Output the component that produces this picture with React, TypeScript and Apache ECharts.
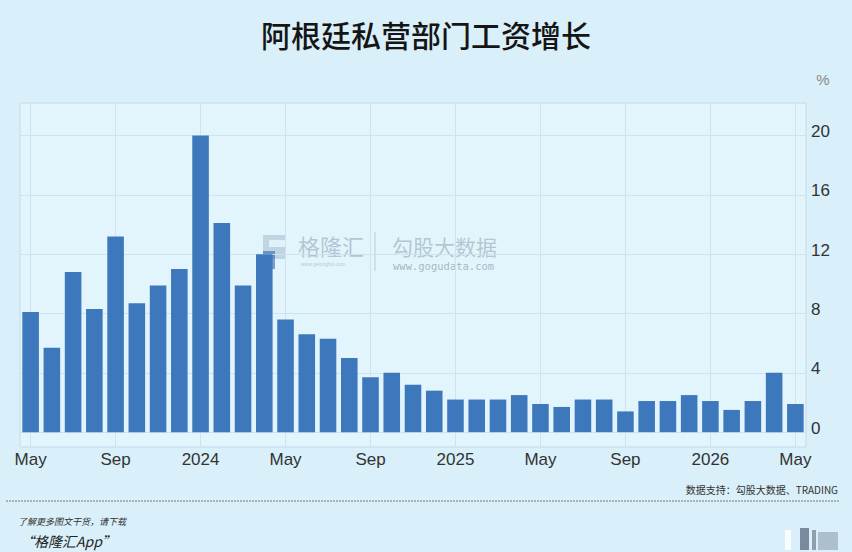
import React, { useEffect, useRef } from "react";
import * as echarts from "echarts";

const categories = [
  "2023-05", "2023-06", "2023-07", "2023-08", "2023-09", "2023-10", "2023-11", "2023-12",
  "2024-01", "2024-02", "2024-03", "2024-04", "2024-05", "2024-06", "2024-07", "2024-08",
  "2024-09", "2024-10", "2024-11", "2024-12", "2025-01", "2025-02", "2025-03", "2025-04",
  "2025-05", "2025-06", "2025-07", "2025-08", "2025-09", "2025-10", "2025-11", "2025-12",
  "2026-01", "2026-02", "2026-03", "2026-04", "2026-05",
];

const wageGrowth = [
  8.1, 5.7, 10.8, 8.3, 13.2, 8.7, 9.9, 11.0,
  20.0, 14.1, 9.9, 12.0, 7.6, 6.6, 6.3, 5.0,
  3.7, 4.0, 3.2, 2.8, 2.2, 2.2, 2.2, 2.5,
  1.9, 1.7, 2.2, 2.2, 1.4, 2.1, 2.1, 2.5,
  2.1, 1.5, 2.1, 4.0, 1.9,
];

const yTicks = [0, 4, 8, 12, 16, 20];
const monthNames = ["Jan", "Feb", "Mar", "Apr", "May", "Jun", "Jul", "Aug", "Sep", "Oct", "Nov", "Dec"];

const title = "阿根廷私营部门工资增长";
const unitLabel = "%";
const sourceText = "数据支持：勾股大数据、TRADING";
const promoLine1 = "了解更多图文干货，请下载";
const promoLine2 = "“格隆汇App”";

export default function App() {
  const ref = useRef<HTMLDivElement>(null);

  useEffect(() => {
    if (!ref.current) return;
    const chart = echarts.init(ref.current, undefined, { renderer: "svg" });
    const cjk = "'Noto Sans CJK SC', 'Noto Sans', sans-serif";
    const latin = "'Liberation Sans', Arial, sans-serif";
    const wm = "rgba(150,168,182,0.6)";

    chart.setOption({
      animation: false,
      backgroundColor: "#d9eff9",
      grid: {
        left: 20,
        right: 46,
        top: 103,
        bottom: 105,
        show: true,
        backgroundColor: "#e2f4fc",
        borderColor: "#c6dbe7",
        borderWidth: 1,
      },
      xAxis: {
        type: "category",
        data: categories,
        boundaryGap: true,
        axisLine: { show: false },
        axisTick: { show: false },
        axisLabel: {
          interval: 3,
          margin: 4,
          fontSize: 17,
          color: "#333",
          fontFamily: latin,
          formatter: (v: string) => {
            const [y, m] = v.split("-");
            const mi = parseInt(m, 10);
            return mi === 1 ? y : monthNames[mi - 1];
          },
        },
        splitLine: {
          show: true,
          interval: 3,
          alignWithLabel: true,
          lineStyle: { color: "#cfe3ee", width: 1 },
        },
      },
      yAxis: {
        type: "value",
        position: "right",
        min: -1,
        max: 22.2,
        axisLine: { show: false },
        axisTick: { show: false, customValues: yTicks },
        axisLabel: {
          customValues: yTicks,
          margin: 5,
          fontSize: 17,
          color: "#333",
          fontFamily: latin,
          verticalAlign: "bottom",
          lineHeight: 8,
        },
        splitLine: { show: true, lineStyle: { color: "#cfe3ee", width: 1 } },
      },
      series: [
        {
          type: "bar",
          data: wageGrowth,
          barWidth: "78%",
          itemStyle: { color: "#3e78bc" },
          z: 3,
        },
      ],
      graphic: [
        {
          type: "text",
          left: "center",
          top: 19,
          style: {
            text: title,
            fontSize: 30,
            fontWeight: 500,
            fontFamily: cjk,
            fill: "#151515",
          },
        },
        {
          type: "text",
          x: 823,
          y: 79,
          style: {
            text: unitLabel,
            fontSize: 15,
            fontFamily: latin,
            fill: "#8a8a8a",
            align: "center",
            verticalAlign: "middle",
          },
        },
        // watermark
        {
          type: "group",
          z: 10,
          children: [
            { type: "rect", shape: { x: 263, y: 235, width: 22, height: 24 }, style: { fill: "rgba(150,175,195,0.45)" } },
            { type: "rect", shape: { x: 269, y: 240, width: 16, height: 7 }, style: { fill: "rgba(226,244,252,0.9)" } },
            { type: "rect", shape: { x: 263, y: 251, width: 12, height: 18 }, style: { fill: "rgba(40,90,170,0.55)" } },
            {
              type: "text",
              x: 298,
              y: 245,
              style: { text: "格隆汇", fontSize: 22, fontFamily: cjk, fill: wm, verticalAlign: "middle", lineHeight: 22 },
            },
            {
              type: "text",
              x: 301,
              y: 264,
              style: { text: "www.gelonghui.com", fontSize: 5, fontFamily: latin, fill: wm, verticalAlign: "middle", lineHeight: 5 },
            },
            { type: "line", shape: { x1: 375, y1: 232, x2: 375, y2: 271 }, style: { stroke: "rgba(150,168,182,0.5)", lineWidth: 1 } },
            {
              type: "text",
              x: 392,
              y: 246,
              style: { text: "勾股大数据", fontSize: 21, fontFamily: cjk, fill: wm, verticalAlign: "middle", lineHeight: 21 },
            },
            {
              type: "text",
              x: 393,
              y: 266,
              style: { text: "www.gogudata.com", fontSize: 10.5, fontFamily: "'DejaVu Sans Mono', monospace", fill: "rgba(130,148,162,0.65)", verticalAlign: "middle", lineHeight: 8 },
            },
          ],
        },
        // footer
        {
          type: "text",
          right: 14,
          top: 484,
          style: { text: sourceText, fontSize: 10, fontFamily: cjk, fill: "#333" },
        },
        {
          type: "line",
          shape: { x1: 6, y1: 501, x2: 840, y2: 501 },
          style: { stroke: "#777", lineWidth: 1, lineDash: [2, 1] },
        },
        {
          type: "text",
          x: 18,
          y: 521,
          style: { text: promoLine1, fontSize: 9, fontStyle: "italic", fontFamily: cjk, fill: "#333", verticalAlign: "middle" },
        },
        {
          type: "text",
          x: 20,
          y: 541,
          style: { text: promoLine2, fontSize: 14, fontStyle: "italic", fontFamily: cjk, fill: "#222", verticalAlign: "middle" },
        },
        // blurred badge at bottom right
        { type: "rect", shape: { x: 785, y: 530, width: 6, height: 20 }, style: { fill: "rgba(255,255,255,0.8)" } },
        { type: "rect", shape: { x: 800, y: 528, width: 9, height: 22 }, style: { fill: "rgba(40,55,80,0.55)" } },
        { type: "rect", shape: { x: 812, y: 530, width: 4, height: 20 }, style: { fill: "rgba(70,80,100,0.5)" } },
        { type: "rect", shape: { x: 818, y: 532, width: 20, height: 18 }, style: { fill: "rgba(120,130,150,0.45)" } },
      ],
    });

    return () => chart.dispose();
  }, []);

  return (
    <div
      ref={ref}
      style={{ position: "fixed", left: 0, top: 0, width: 852, height: 552, background: "#d9eff9" }}
    />
  );
}
